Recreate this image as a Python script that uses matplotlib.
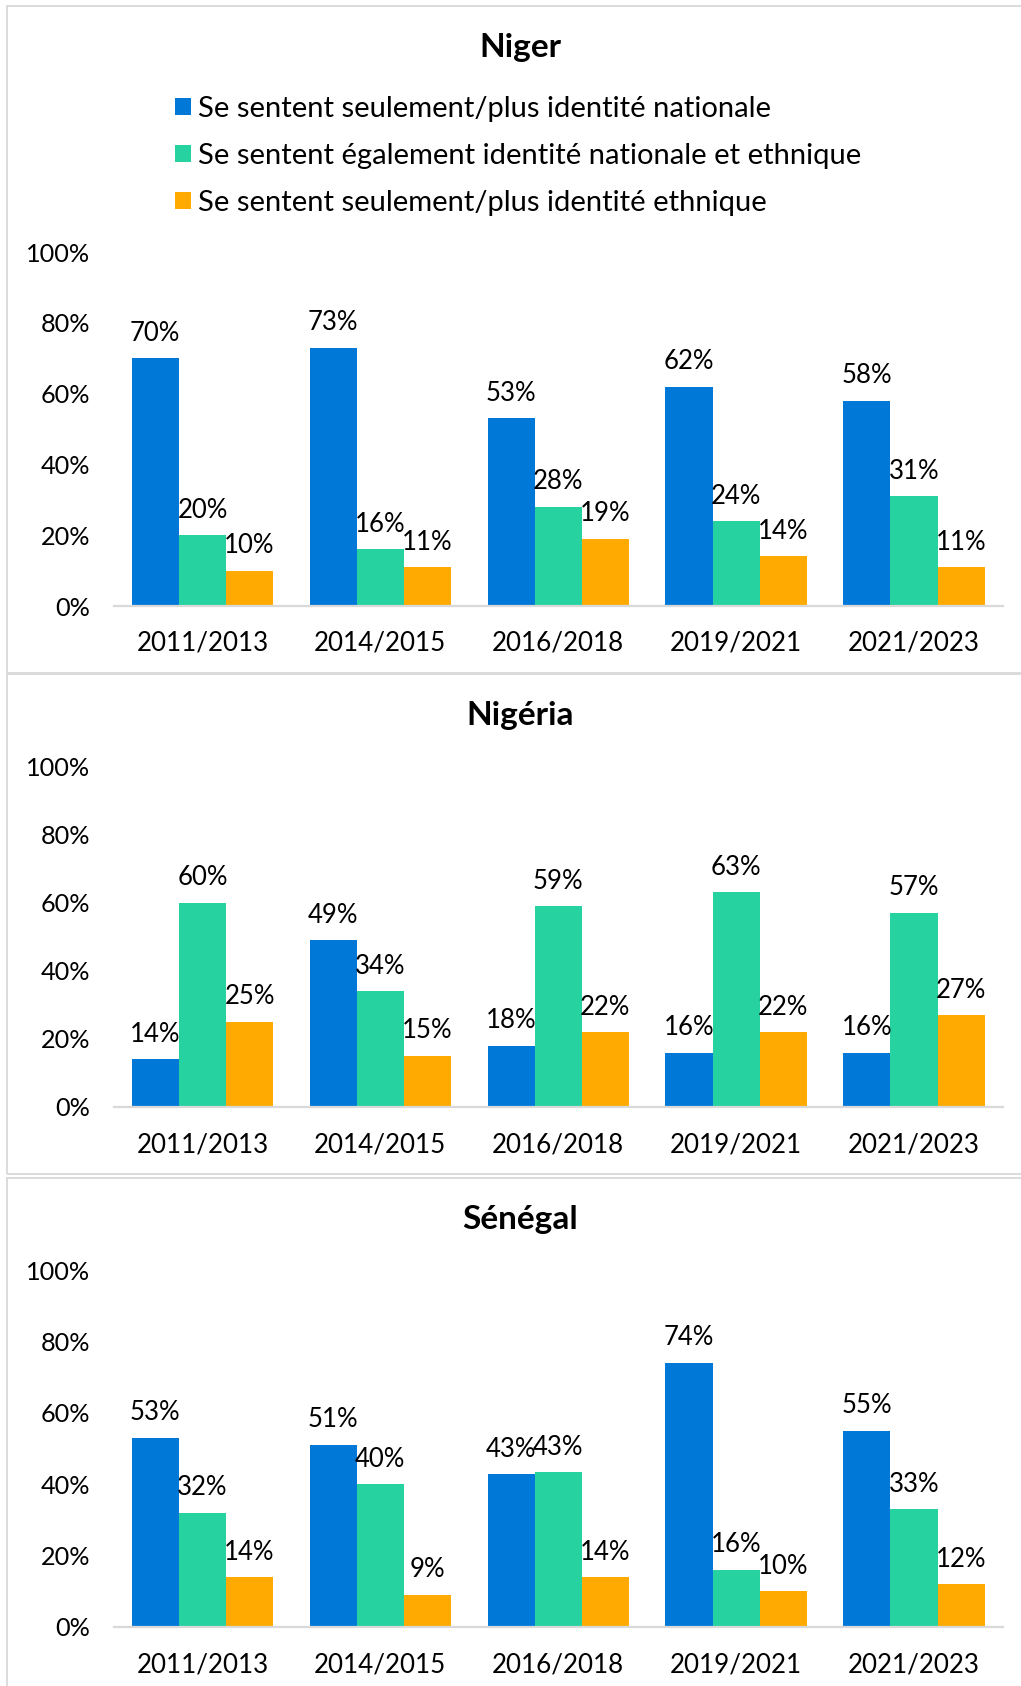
import matplotlib
matplotlib.use("Agg")
import matplotlib.pyplot as plt
from matplotlib.patches import Rectangle
import numpy as np

plt.rcParams['font.family'] = ['Lato', 'DejaVu Sans']

periods = ["2011/2013", "2014/2015", "2016/2018", "2019/2021", "2021/2023"]
series_names = [
    "Se sentent seulement/plus identité nationale",
    "Se sentent également identité nationale et ethnique",
    "Se sentent seulement/plus identité ethnique",
]
colors = ["#0078D7", "#26D2A0", "#FFAA00"]

niger_national = [70, 73, 53, 62, 58]
niger_both = [20, 16, 28, 24, 31]
niger_ethnic = [10, 11, 19, 14, 11]

nigeria_national = [14, 49, 18, 16, 16]
nigeria_both = [60, 34, 59, 63, 57]
nigeria_ethnic = [25, 15, 22, 22, 27]

senegal_national = [53, 51, 42.8, 74, 55]
senegal_both = [32, 40, 43.3, 16, 33]
senegal_ethnic = [14, 9, 14, 10, 12]

countries = ["Niger", "Nigéria", "Sénégal"]
data = [
    [niger_national, niger_both, niger_ethnic],
    [nigeria_national, nigeria_both, nigeria_ethnic],
    [senegal_national, senegal_both, senegal_ethnic],
]
yticks = [0, 20, 40, 60, 80, 100]

W, H = 1021, 1686
fig = plt.figure(figsize=(W / 100, H / 100), dpi=100)

def fx(x):
    return x / W

def fy(y):
    return 1 - y / H

# panel layout in pixels: (border top, border bottom, title y, axis top (100%), axis bottom (0%))
panels = [
    (5.5, 672.5, 47, 252, 606),
    (673.5, 1173.5, 716, 766.5, 1107),
    (1177.5, 1700, 1220, 1270, 1627),
]
ax_left, ax_right = 113.5, 1003
border_col = "#D9D9D9"
bw = 0.265
fs_leg = 21
fs_x = 18.7
fs_y = 18.2
fs_lab = 18.5

for i, (bt, bb, ty, at, ab) in enumerate(panels):
    fig.patches.append(Rectangle((fx(6.5), fy(bb)), fx(1040) - fx(6.5), fy(bt) - fy(bb),
                                 transform=fig.transFigure, facecolor="none",
                                 edgecolor=border_col, lw=1.3, zorder=-1))
    ax = fig.add_axes([fx(ax_left), fy(ab), fx(ax_right) - fx(ax_left), fy(at) - fy(ab)])
    ax.set_facecolor("none")
    x = np.arange(len(periods))
    for k, vals in enumerate(data[i]):
        bars = ax.bar(x + (k - 1) * bw, vals, width=bw, color=colors[k],
                      label=series_names[k], zorder=2)
        ax.bar_label(bars, labels=[f"{v:.0f}%" for v in vals], padding=9,
                     fontsize=fs_lab, color="black")
    ax.set_xlim(-0.5, len(periods) - 0.5)
    ax.set_ylim(0, 100)
    ax.set_yticks(yticks)
    ax.set_yticklabels([f"{t}%" for t in yticks], fontsize=fs_y)
    ax.set_xticks(x)
    ax.set_xticklabels(periods, fontsize=fs_x)
    ax.tick_params(axis='both', length=0)
    ax.tick_params(axis='y', pad=17)
    ax.tick_params(axis='x', pad=18)
    for s in ["left", "right", "top"]:
        ax.spines[s].set_visible(False)
    ax.spines["bottom"].set_color(border_col)
    ax.spines["bottom"].set_linewidth(1.6)
    ax.spines["bottom"].set_zorder(3)
    fig.text(fx(520), fy(ty), countries[i], ha="center", va="center",
             fontsize=24, fontweight="bold", color="black")
    if i == 0:
        handles, labels = ax.get_legend_handles_labels()
        fig.legend(handles, labels, loc="upper left",
                   bbox_to_anchor=(fx(175), fy(96)), bbox_transform=fig.transFigure,
                   frameon=False, fontsize=fs_leg, borderpad=0, borderaxespad=0,
                   handlelength=0.55, handleheight=0.55, handletextpad=0.25,
                   labelspacing=0.72)

fig.savefig("out.png", dpi=100)
